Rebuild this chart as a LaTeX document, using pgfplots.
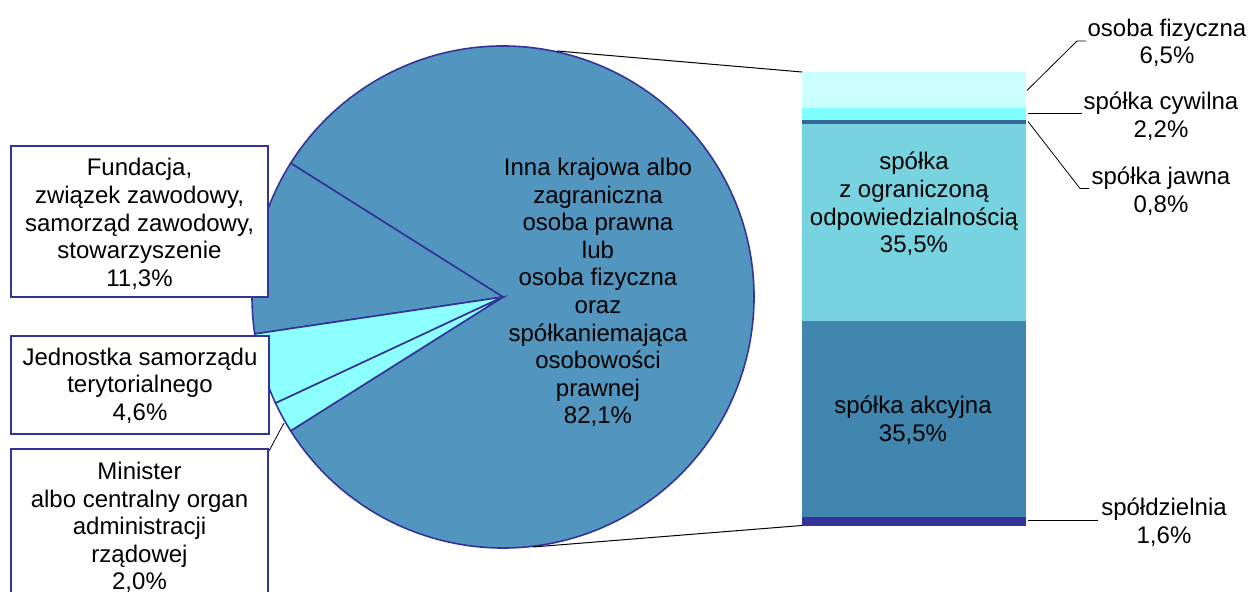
\documentclass[border=0pt]{standalone}
\usepackage{pgfplots}
\pgfplotsset{compat=1.18}
\usepackage{fontspec}
\setmainfont{Liberation Sans}
\definecolor{pieblue}{RGB}{82,150,192}
\definecolor{piecyan}{RGB}{140,255,255}
\definecolor{navy}{RGB}{51,51,153}
\definecolor{barlight}{RGB}{204,255,255}
\definecolor{barcyan}{RGB}{128,255,255}
\definecolor{bardark}{RGB}{51,102,153}
\definecolor{barmid}{RGB}{118,211,223}
\definecolor{barblue}{RGB}{65,134,174}
\tikzset{lbl/.style={font=\fontsize{12pt}{13.8pt}\selectfont, align=center, inner sep=0pt}}
\begin{document}
\begin{tikzpicture}
% pie values (percent)
\def\vMain{82.1}
\def\vFund{11.3}
\def\vJst{4.6}
\def\vMin{2.0}
\pgfmathsetmacro\aS{-1.8*\vMain}
\pgfmathsetmacro\aB{\aS+3.6*\vMain}
\pgfmathsetmacro\aC{\aB+3.6*\vFund}
\pgfmathsetmacro\aD{\aC+3.6*\vJst}
\pgfmathsetmacro\aE{\aD+3.6*\vMin}
\begin{axis}[at={(0pt,0pt)}, anchor=south west, width=625pt, height=296pt,
  scale only axis, xmin=0, xmax=1250, ymin=0, ymax=592, y dir=reverse,
  hide axis, clip=false]
% pie slices
\filldraw[fill=pieblue, draw=navy, line width=0.8pt] (axis cs:503,297) -- ++(\aS:125.5pt) arc[start angle=\aS, end angle=\aB, radius=125.5pt] -- cycle;
\filldraw[fill=pieblue, draw=navy, line width=0.8pt] (axis cs:503,297) -- ++(\aB:125.5pt) arc[start angle=\aB, end angle=\aC, radius=125.5pt] -- cycle;
\filldraw[fill=piecyan, draw=navy, line width=0.8pt] (axis cs:503,297) -- ++(\aC:125.5pt) arc[start angle=\aC, end angle=\aD, radius=125.5pt] -- cycle;
\filldraw[fill=piecyan, draw=navy, line width=0.8pt] (axis cs:503,297) -- ++(\aD:125.5pt) arc[start angle=\aD, end angle=\aE, radius=125.5pt] -- cycle;
% connector lines
\draw[black, line width=0.5pt] (axis cs:557,51) -- (axis cs:802,72);
\draw[black, line width=0.5pt] (axis cs:533,547) -- (axis cs:802,525.5);
% main label
\node[lbl] at (axis cs:598,292.5) {Inna krajowa albo\\zagraniczna\\osoba prawna\\lub\\osoba fizyczna\\oraz\\spółkaniemająca\\osobowości\\prawnej\\82,1\%};
% boxes
\draw[black, line width=0.4pt] (axis cs:269,451) -- (axis cs:284,423);
\filldraw[fill=white, draw=navy, line width=0.6pt] (axis cs:11,146) rectangle (axis cs:268,297);
\node[lbl] at (axis cs:139.5,224) {Fundacja,\\związek zawodowy,\\samorząd zawodowy,\\stowarzyszenie\\11,3\%};
\filldraw[fill=white, draw=navy, line width=0.6pt] (axis cs:11,336) rectangle (axis cs:269,434);
\node[lbl] at (axis cs:140,385.5) {Jednostka samorządu\\terytorialnego\\4,6\%};
\filldraw[fill=white, draw=navy, line width=0.6pt] (axis cs:11,449) rectangle (axis cs:268,620);
\node[lbl] at (axis cs:139.5,527.5) {Minister\\albo centralny organ\\administracji\\rządowej\\2,0\%};
% bar labels and leaders
\draw[black, line width=0.4pt] (axis cs:1027,90.5) -- (axis cs:1077,41) -- (axis cs:1086,41);
\node[lbl] at (axis cs:1167,43) {osoba fizyczna\\6,5\%};
\draw[black, line width=0.4pt] (axis cs:1028,113) -- (axis cs:1082,113);
\node[lbl] at (axis cs:1161,116) {spółka cywilna\\2,2\%};
\draw[black, line width=0.4pt] (axis cs:1028,121.5) -- (axis cs:1080,188.5) -- (axis cs:1089,188.5);
\node[lbl] at (axis cs:1161,191) {spółka jawna\\0,8\%};
\draw[black, line width=0.4pt] (axis cs:1028,520.5) -- (axis cs:1098,520.5);
\node[lbl] at (axis cs:1164,522) {spółdzielnia\\1,6\%};
\end{axis}
% stacked bar of the 82,1% slice
\begin{axis}[at={(401pt,33.15pt)}, anchor=south west, width=112pt, height=226.85pt,
  scale only axis, xmin=0, xmax=1, ymin=0, ymax=82.1, ybar stacked, bar width=112pt,
  hide axis, clip=false]
\addplot[fill=navy, draw=none] coordinates {(0.5,1.6)};
\addplot[fill=barblue, draw=none] coordinates {(0.5,35.5)};
\addplot[fill=barmid, draw=none] coordinates {(0.5,35.5)};
\addplot[fill=bardark, draw=none] coordinates {(0.5,0.8)};
\addplot[fill=barcyan, draw=none] coordinates {(0.5,2.2)};
\addplot[fill=barlight, draw=none] coordinates {(0.5,6.5)};
\end{axis}
\begin{axis}[at={(0pt,0pt)}, anchor=south west, width=625pt, height=296pt,
  scale only axis, xmin=0, xmax=1250, ymin=0, ymax=592, y dir=reverse,
  hide axis, clip=false]
\node[lbl] at (axis cs:914,204) {spółka\\z ograniczoną\\odpowiedzialnością\\35,5\%};
\node[lbl] at (axis cs:913,420) {spółka akcyjna\\35,5\%};
\end{axis}
\pgfresetboundingbox
\path[use as bounding box] (0pt,0pt) rectangle (625pt,296pt);
\end{tikzpicture}
\end{document}
